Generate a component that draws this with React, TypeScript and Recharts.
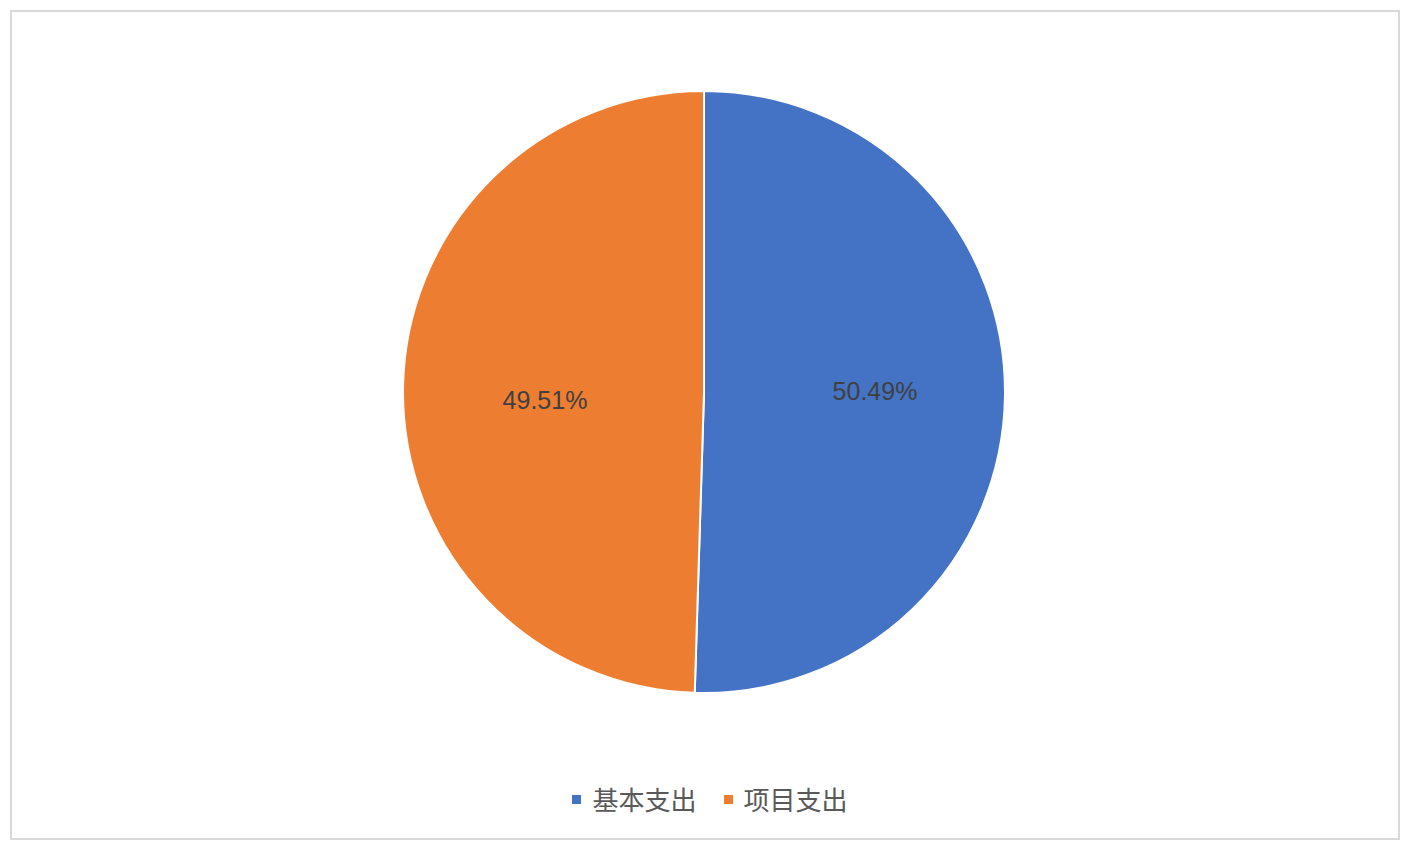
import React from 'react';
import { PieChart, Pie, Cell, Legend } from 'recharts';

const categories = ['基本支出', '项目支出'];
const shares = [50.49, 49.51];
const colors = ['#4472C4', '#ED7D31'];

const data = categories.map((name, i) => ({ name, value: shares[i] }));

const RAD = Math.PI / 180;
// small nudges so the labels sit where the original placed them
const LABEL_NUDGE = [
  [6, -4],
  [6, 11],
];

const renderLabel = (props: any) => {
  const { cx, cy, midAngle, index } = props;
  const r = 165;
  const x = cx + r * Math.cos(-midAngle * RAD) + LABEL_NUDGE[index][0];
  const y = cy + r * Math.sin(-midAngle * RAD) + LABEL_NUDGE[index][1];
  return (
    <text
      x={x}
      y={y}
      textAnchor="middle"
      dominantBaseline="central"
      fill="#404040"
      fontSize={25}
      fontFamily="'Liberation Sans', Arial, sans-serif"
    >
      {shares[index].toFixed(2)}%
    </text>
  );
};

const renderLegend = () => (
  <div
    style={{
      display: 'flex',
      justifyContent: 'center',
      alignItems: 'center',
      paddingLeft: 10,
      fontFamily: "'Noto Sans CJK SC', sans-serif",
      fontSize: 26,
      color: '#595959',
    }}
  >
    {categories.map((c, i) => (
      <div key={c} style={{ display: 'flex', alignItems: 'center', marginRight: i === 0 ? 27 : 0 }}>
        <span style={{ width: 9, height: 9, background: colors[i], display: 'inline-block', marginRight: 11 }} />
        <span style={{ lineHeight: '28px' }}>{c}</span>
      </div>
    ))}
  </div>
);

export default function App() {
  return (
    <div
      style={{
        position: 'absolute',
        left: 10,
        top: 10,
        width: 1386,
        height: 826,
        border: '2px solid #d9d9d9',
        background: '#fff',
      }}
    >
      <PieChart width={1386} height={826}>
        <Pie
          data={data}
          dataKey="value"
          nameKey="name"
          cx={687}
          cy={375}
          outerRadius={301}
          startAngle={90}
          endAngle={-270}
          stroke="#ffffff"
          strokeWidth={2}
          label={renderLabel}
          labelLine={false}
          isAnimationActive={false}
        >
          {data.map((d, i) => (
            <Cell key={d.name} fill={colors[i]} />
          ))}
        </Pie>
        <Legend
          content={renderLegend}
          wrapperStyle={{ left: 0, width: 1386, top: 773 }}
        />
      </PieChart>
    </div>
  );
}
